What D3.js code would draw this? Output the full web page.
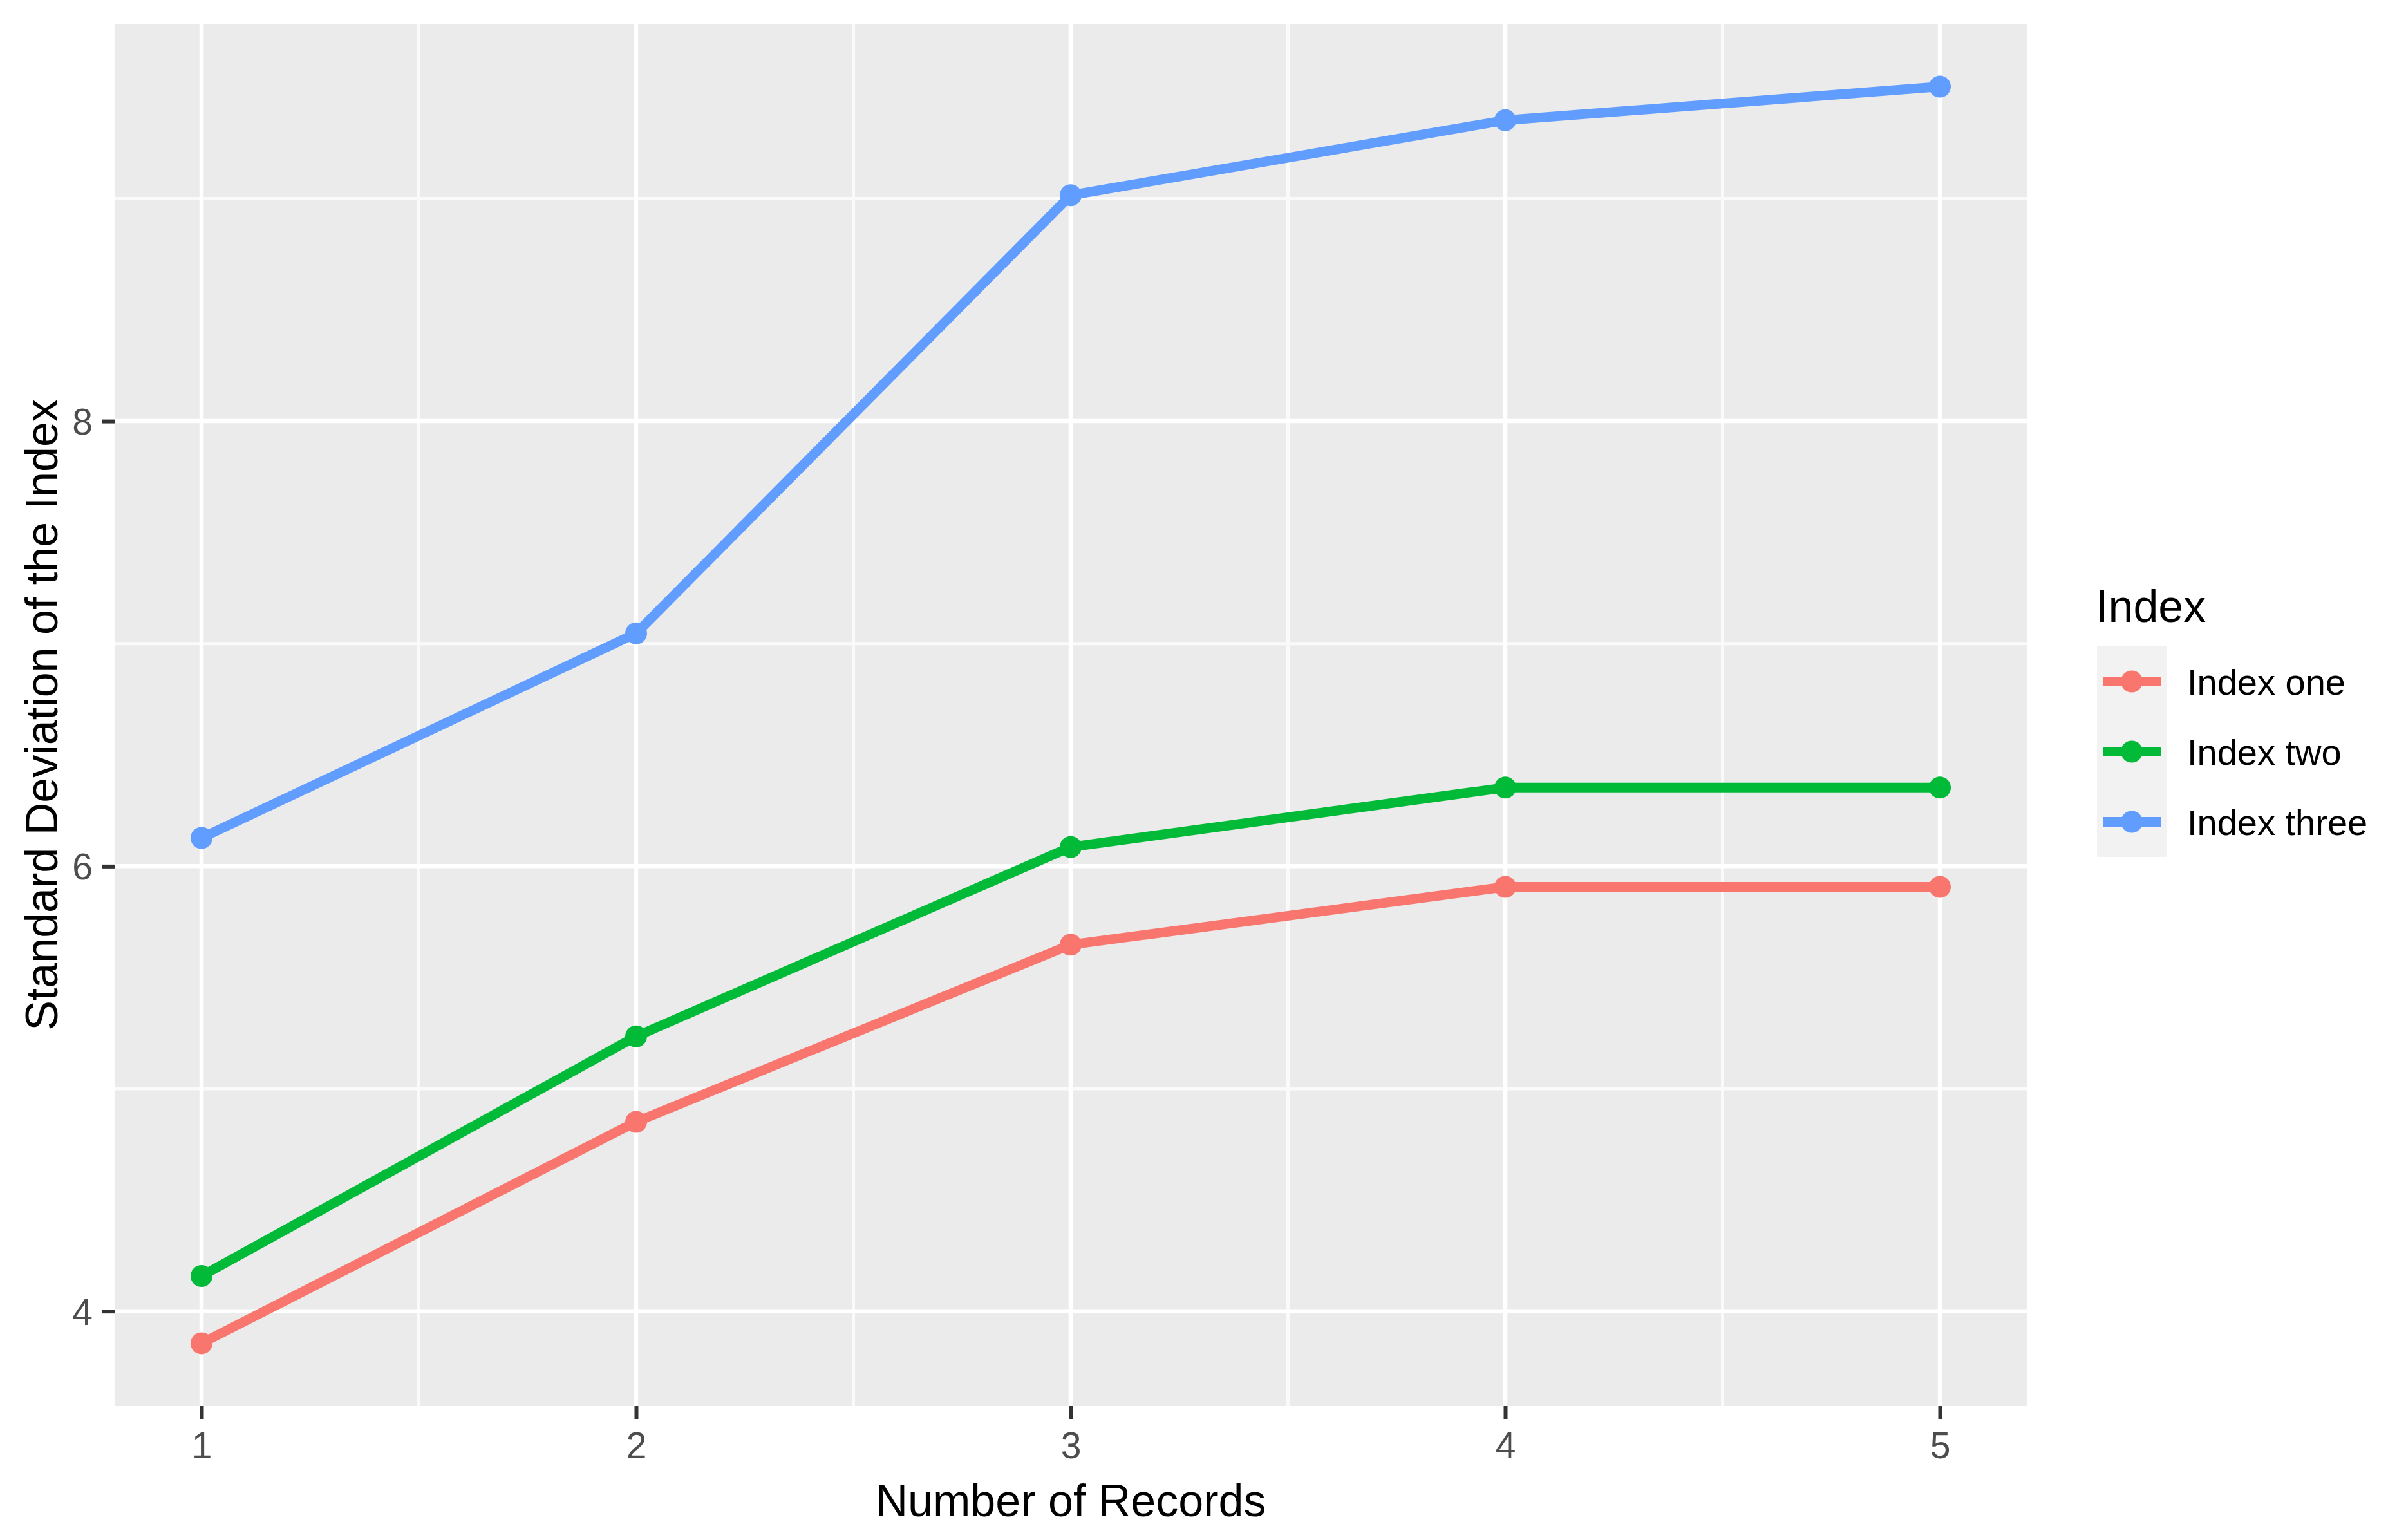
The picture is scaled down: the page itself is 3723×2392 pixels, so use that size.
<!DOCTYPE html>
<html>
<head>
<meta charset="utf-8">
<script src="https://cdn.jsdelivr.net/npm/d3@7"></script>
<style>
  html, body { margin: 0; padding: 0; background: #ffffff; }
  svg { display: block; }
  text { font-family: "Liberation Sans", Arial, sans-serif; }
</style>
</head>
<body>
<svg id="chart" width="3723" height="2392"></svg>
<script>
// ---- Data ----
const records = [1, 2, 3, 4, 5];
const seriesNames = ["Index one", "Index two", "Index three"];
const indexOne = [3.856, 4.851, 5.647, 5.907, 5.907];
const indexTwo = [4.158, 5.235, 6.086, 6.353, 6.353];
const indexThree = [6.127, 7.046, 9.015, 9.352, 9.503];
const seriesColors = ["#F8766D", "#00BA38", "#619CFF"];
const xTickLabels = ["1", "2", "3", "4", "5"];
const yTickValues = [4, 6, 8];
const yMinorValues = [5, 7, 9];
const xMinorValues = [1.5, 2.5, 3.5, 4.5];
const xTitle = "Number of Records";
const yTitle = "Standard Deviation of the Index";
const legendTitle = "Index";

const seriesValues = [indexOne, indexTwo, indexThree];

// ---- Layout ----
const panel = { left: 178, right: 3148, top: 37, bottom: 2184 };
const svg = d3.select("#chart");

const allVals = seriesValues.flat();
const yMin = d3.min(allVals), yMax = d3.max(allVals);
const yPad = (yMax - yMin) * 0.05;
const xMin = d3.min(records), xMax = d3.max(records);
const xPad = (xMax - xMin) * 0.05;

const x = d3.scaleLinear().domain([xMin - xPad, xMax + xPad]).range([panel.left, panel.right]);
const y = d3.scaleLinear().domain([yMin - yPad, yMax + yPad]).range([panel.bottom, panel.top]);

// panel background
svg.append("rect")
  .attr("x", panel.left).attr("y", panel.top)
  .attr("width", panel.right - panel.left).attr("height", panel.bottom - panel.top)
  .attr("fill", "#EBEBEB");

const grid = svg.append("g");
// minor grid
grid.selectAll("line.ymin").data(yMinorValues).enter().append("line")
  .attr("x1", panel.left).attr("x2", panel.right)
  .attr("y1", d => y(d)).attr("y2", d => y(d))
  .attr("stroke", "#FAFAFA").attr("stroke-width", 5);
grid.selectAll("line.xmin").data(xMinorValues).enter().append("line")
  .attr("y1", panel.top).attr("y2", panel.bottom)
  .attr("x1", d => x(d)).attr("x2", d => x(d))
  .attr("stroke", "#FAFAFA").attr("stroke-width", 5);
// major grid
grid.selectAll("line.ymaj").data(yTickValues).enter().append("line")
  .attr("x1", panel.left).attr("x2", panel.right)
  .attr("y1", d => y(d)).attr("y2", d => y(d))
  .attr("stroke", "#FFFFFF").attr("stroke-width", 6.5);
grid.selectAll("line.xmaj").data(records).enter().append("line")
  .attr("y1", panel.top).attr("y2", panel.bottom)
  .attr("x1", d => x(d)).attr("x2", d => x(d))
  .attr("stroke", "#FFFFFF").attr("stroke-width", 6.5);

// axes
const xAxis = d3.axisBottom(x).tickValues(records)
  .tickFormat((d, i) => xTickLabels[i]).tickSize(20).tickPadding(20);
const gx = svg.append("g").attr("transform", `translate(0,${panel.bottom})`).call(xAxis);
gx.select(".domain").remove();
gx.selectAll(".tick line").attr("stroke", "#333333").attr("stroke-width", 6);
gx.selectAll(".tick text").attr("fill", "#4D4D4D").attr("font-size", 57)
  .attr("font-family", "Liberation Sans, Arial, sans-serif").attr("dy", "0.72em");

const yAxis = d3.axisLeft(y).tickValues(yTickValues).tickFormat(d3.format("d"))
  .tickSize(20).tickPadding(14);
const gy = svg.append("g").attr("transform", `translate(${panel.left},0)`).call(yAxis);
gy.select(".domain").remove();
gy.selectAll(".tick line").attr("stroke", "#333333").attr("stroke-width", 6);
gy.selectAll(".tick text").attr("fill", "#4D4D4D").attr("font-size", 57)
  .attr("font-family", "Liberation Sans, Arial, sans-serif").attr("dy", "0.36em");

// axis titles
svg.append("text")
  .attr("x", (panel.left + panel.right) / 2).attr("y", 2355)
  .attr("text-anchor", "middle").attr("font-size", 70).attr("fill", "#000")
  .text(xTitle);
svg.append("text")
  .attr("transform", `translate(89,${(panel.top + panel.bottom) / 2}) rotate(-90)`)
  .attr("text-anchor", "middle").attr("font-size", 70).attr("fill", "#000")
  .text(yTitle);

// series
const line = d3.line().x((d, i) => x(records[i])).y(d => y(d));
const gs = svg.append("g");
seriesValues.forEach((vals, si) => {
  gs.append("path").datum(vals)
    .attr("d", line).attr("fill", "none")
    .attr("stroke", seriesColors[si]).attr("stroke-width", 15)
    .attr("stroke-linejoin", "round").attr("stroke-linecap", "butt");
});
seriesValues.forEach((vals, si) => {
  gs.selectAll(null).data(vals).enter().append("circle")
    .attr("cx", (d, i) => x(records[i])).attr("cy", d => y(d))
    .attr("r", 17).attr("fill", seriesColors[si]);
});

// legend
const leg = svg.append("g");
leg.append("text").attr("x", 3255).attr("y", 966)
  .attr("font-size", 70).attr("fill", "#000").text(legendTitle);
const keyTop = 1004, keyH = 109, keyLeft = 3257, keyW = 108;
seriesNames.forEach((name, i) => {
  const ky = keyTop + i * keyH;
  leg.append("rect").attr("x", keyLeft).attr("y", ky).attr("width", keyW).attr("height", keyH)
    .attr("fill", "#F2F2F2");
  const cy = ky + keyH / 2;
  leg.append("line").attr("x1", keyLeft + 9).attr("x2", keyLeft + keyW - 9)
    .attr("y1", cy).attr("y2", cy).attr("stroke", seriesColors[i]).attr("stroke-width", 15);
  leg.append("circle").attr("cx", keyLeft + keyW / 2).attr("cy", cy).attr("r", 17)
    .attr("fill", seriesColors[i]);
  leg.append("text").attr("x", 3397).attr("y", cy + 20)
    .attr("font-size", 56).attr("fill", "#000").text(name);
});
</script>
</body>
</html>
